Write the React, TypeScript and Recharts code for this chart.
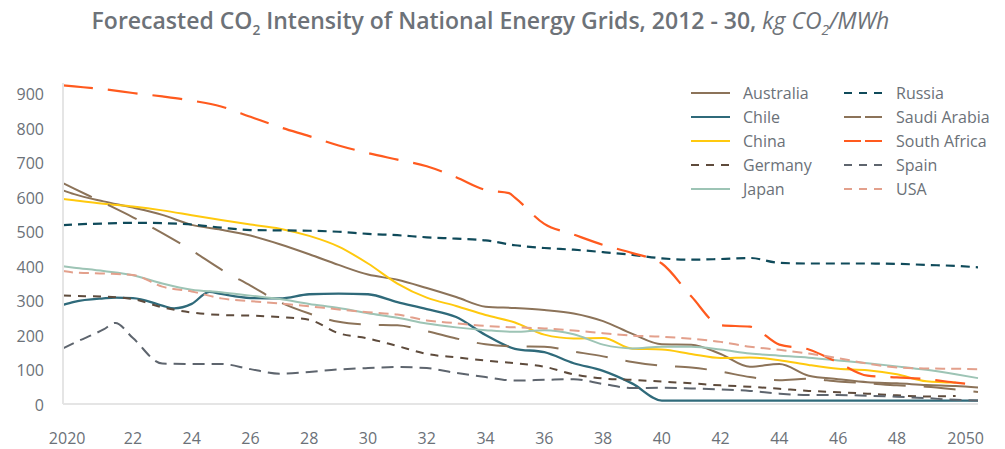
import { LineChart, Line, XAxis, YAxis } from 'recharts';

// sample positions in years (a few extra points where the curves turn sharply)
const years = [
    2019.62, 2020, 2021, 2021.4, 2022, 2023, 2023.4, 2024, 2024.6, 2025,
    2026, 2027, 2028, 2029, 2030, 2031, 2032, 2033, 2034, 2034.8,
    2035, 2036, 2037, 2038, 2039, 2040, 2041, 2042, 2043, 2044,
    2045, 2046, 2047, 2048, 2049, 2050, 2050.76,
];

const australia = [619, 608, 587, null, 569, 548, null, 519, null, 505, 488, 463, 434, 403, 375, 360, 336, 310, 282, null, 278, 272, 262, 240, 203, 173, 172, 145, 108, 116, 82, 72, 63, 60, 55, 52, 48];
const chile = [287, 296, 306, 308, 307, 285, 277, 290, 325, 319, 307, 306, 318, 320, 318, 295, 275, 252, 200, null, 160, 150, 118, 96, 59, 10, 10, 10, 10, 10, 10, 10, 10, 10, 10, 10, 10];
const china = [594, 590, 580, null, 572, 561, null, 547, null, 533, 520, 508, 487, 456, 407, 349, 308, 284, 258, null, 236, 201, 190, 191, 160, 158, 145, 133, 135, 127, 113, 102, 98, 86, 66, 62, null];
const germany = [314, 313, 311, null, 304, 280, null, 265, null, 258, 256, 252, 244, 205, 190, 168, 145, 135, 126, null, 118, 108, 86, 74, 70, 65, 60, 54, 50, 44, 38, 34, 30, 25, 22, 23, null];
const japan = [399, 395, 385, null, 373, 349, null, 331, null, 324, 314, 304, 290, 278, 263, 250, 233, 222, 214, null, 209, 214, 202, 172, 161, 166, 166, 158, 146, 140, 134, 126, 118, 109, 99, 86, 75];
const russia = [518, 520, 523, null, 525, 524, null, 520, null, 511, 504, 503, 502, 499, 493, 489, 483, 479, 474, null, 460, 452, 447, 440, 432, 422, 418, 420, 423, 409, 407, 407, 407, 406, 403, 400, 396];
const saudiArabia = [640, 624, 583, null, 541, 495, null, 445, null, 390, 343, 295, 262, 238, 230, 228, 211, 190, 173, null, 167, 166, 152, 138, 122, 111, 106, 94, 78, 69, 73, 65, 60, 54, 50, 42, 35];
const southAfrica = [923, 920, 912, null, 901, 891, null, 879, null, 862, 832, 802, 776, 749, 727, 708, 689, 657, 620, 611, 598, 522, 491, 461, 437, 407, 312, 228, 224, 172, 158, 120, 82, 77, 72, 62, 55];
const spain = [161, 177, 216, 235, 191, 117, null, 116, null, 116, 101, 88, 93, 100, 104, 107, 104, 90, 78, null, 68, 70, 72, 58, 46, 47, 45, 42, 38, 30, 26, 26, 24, 21, 17, 12, 10];
const usa = [385, 381, 378, null, 374, 340, null, 326, null, 306, 298, 291, 283, 274, 266, 259, 242, 234, 226, null, 222, 219, 213, 205, 198, 195, 189, 180, 166, 157, 146, 133, 117, 106, 103, 102, 101];

const xTicks = [2020, 2022, 2024, 2026, 2028, 2030, 2032, 2034, 2036, 2038, 2040, 2042, 2044, 2046, 2048, 2050];
const yTicks = [0, 100, 200, 300, 400, 500, 600, 700, 800, 900];

const series = [
    { name: 'Australia', values: australia, color: '#8C7359', dash: undefined, legendDash: undefined, width: 2 },
    { name: 'Chile', values: chile, color: '#2F6A7A', dash: undefined, legendDash: undefined, width: 2.3 },
    { name: 'China', values: china, color: '#FFC90E', dash: undefined, legendDash: undefined, width: 2 },
    { name: 'Germany', values: germany, color: '#5E4B3C', dash: '8 7', legendDash: '8 7', width: 2 },
    { name: 'Japan', values: japan, color: '#9DC4B5', dash: undefined, legendDash: undefined, width: 2 },
    { name: 'Russia', values: russia, color: '#0F4A5A', dash: '9 6', legendDash: '8 7', width: 2.2 },
    { name: 'Saudi Arabia', values: saudiArabia, color: '#8C7359', dash: '32 18', legendDash: '17 4', width: 2 },
    { name: 'South Africa', values: southAfrica, color: '#FF5A1E', dash: '30 15', legendDash: '17 4', width: 2.2 },
    { name: 'Spain', values: spain, color: '#5E656E', dash: '12 7', legendDash: '8 7', width: 2 },
    { name: 'USA', values: usa, color: '#E3A08C', dash: '10 6', legendDash: '8 7', width: 2 },
];

const rows = years.map((year, i) => {
    const row: Record<string, number | null> = { year };
    series.forEach((s) => { row[s.name] = s.values[i]; });
    return row;
});

const FONT = '"Open Sans", sans-serif';
const GREY = '#6B7178';

const XTick = (props: any) => {
    const { x, y, payload } = props;
    const v = payload.value;
    const label = v === 2020 || v === 2050 ? String(v) : String(v).slice(2);
    const dx = v === 2020 ? -7 : v === 2050 ? 10 : 0;
    return (
        <text x={x + dx} y={y + 40} textAnchor="middle" fill={GREY} fontSize={16} fontFamily={FONT}>
            {label}
        </text>
    );
};

const YTick = (props: any) => {
    const { x, y, payload } = props;
    return (
        <text x={x} y={y + 7} textAnchor="end" fill={GREY} fontSize={16} fontFamily={FONT}>
            {payload.value}
        </text>
    );
};

function LegendBox() {
    return (
        <div style={{
            position: 'absolute', left: 691, top: 81, width: 310,
            display: 'grid', gridTemplateColumns: '153px 157px', gridTemplateRows: 'repeat(5, 24px)', gridAutoFlow: 'column',
        }}>
            {series.map((s) => (
                <div key={s.name} style={{ display: 'flex', alignItems: 'center', height: 24 }}>
                    <svg width={39} height={6} style={{ marginRight: 13 }}>
                        <line x1={0} y1={3} x2={39} y2={3} stroke={s.color} strokeWidth={2.2} strokeDasharray={s.legendDash} />
                    </svg>
                    <span style={{ fontFamily: FONT, fontSize: 16, color: GREY, whiteSpace: 'nowrap' }}>{s.name}</span>
                </div>
            ))}
        </div>
    );
}

export default function App() {
    return (
        <div style={{ position: 'absolute', left: 0, top: 0, width: 1005, height: 449, background: '#fff', overflow: 'hidden' }}>
            <div style={{
                position: 'absolute', left: 0, top: 4, width: 981, textAlign: 'center',
                fontFamily: FONT, fontWeight: 600, fontSize: 23, color: '#6D7278', whiteSpace: 'nowrap',
            }}>
                Forecasted CO<sub style={{ fontSize: '0.6em', verticalAlign: '-0.4em' }}>2</sub> Intensity of National Energy Grids, 2012 - 30,{' '}
                <span style={{ fontStyle: 'italic', fontWeight: 400 }}>
                    kg CO<sub style={{ fontSize: '0.6em', verticalAlign: '-0.4em' }}>2</sub>/MWh
                </span>
            </div>

            <LineChart width={1005} height={449} data={rows} margin={{ top: 83, right: 27, bottom: 5, left: 0 }} style={{ position: 'absolute', left: 0, top: 0 }}>
                <XAxis
                    dataKey="year"
                    type="number"
                    domain={[2019.62, 2050.76]}
                    ticks={xTicks}
                    height={40}
                    tickSize={0}
                    tickMargin={0}
                    tickLine={false}
                    axisLine={{ stroke: '#E5E5E5', strokeWidth: 2 }}
                    tick={<XTick />}
                    interval={0}
                />
                <YAxis
                    domain={[0, 930]}
                    ticks={yTicks}
                    width={63}
                    tickSize={0}
                    tickMargin={19}
                    tickLine={false}
                    axisLine={{ stroke: '#E5E5E5', strokeWidth: 2 }}
                    tick={<YTick />}
                    interval={0}
                />
                {series.map((s) => (
                    <Line
                        key={s.name}
                        dataKey={s.name}
                        type="monotone"
                        stroke={s.color}
                        strokeWidth={s.width}
                        strokeDasharray={s.dash}
                        dot={false}
                        activeDot={false}
                        connectNulls
                        isAnimationActive={false}
                    />
                ))}
            </LineChart>

            <LegendBox />
        </div>
    );
}
